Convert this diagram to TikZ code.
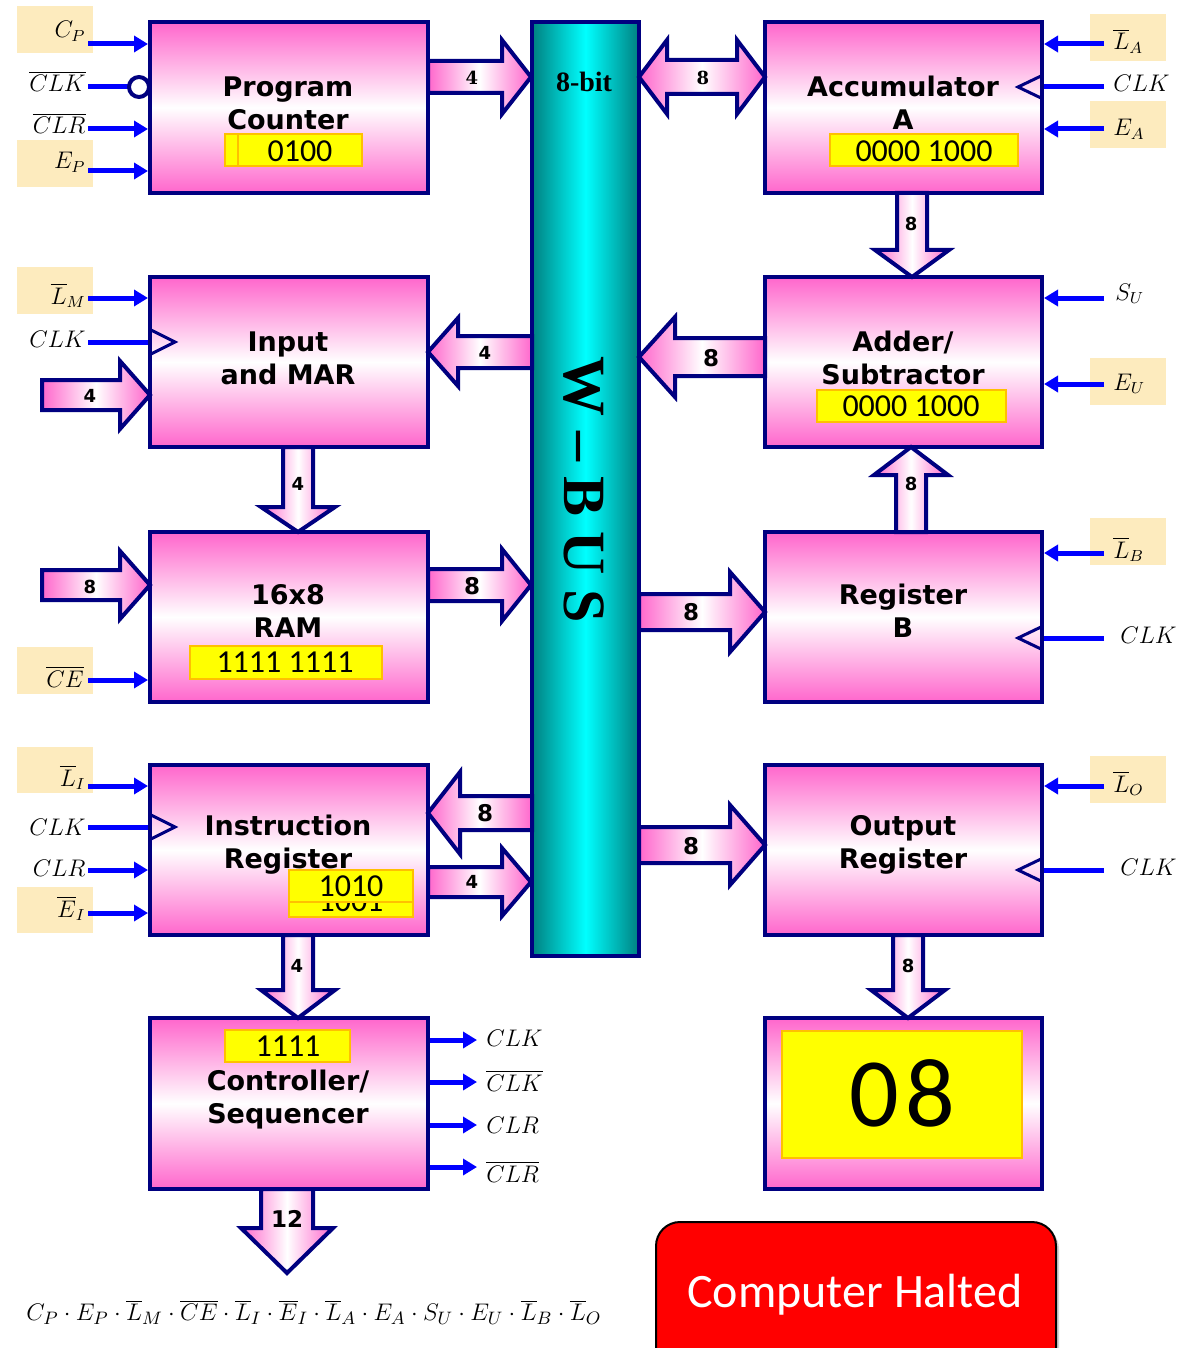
\documentclass[tikz,border=0pt]{standalone}
\usepackage{fontspec}
\usetikzlibrary{arrows.meta,shadows,fit}
\newfontfamily\dvs{DejaVu Sans}
\newfontfamily\dvserif{DejaVu Serif}
\newfontfamily\carl{Carlito}
\newfontfamily\lserif{Liberation Serif}
\definecolor{pk}{RGB}{255,102,204}
\definecolor{navy}{RGB}{0,0,128}
\definecolor{beige}{RGB}{253,235,190}
\definecolor{sigblue}{RGB}{0,0,255}
\definecolor{dteal}{RGB}{0,128,128}
\definecolor{ybor}{RGB}{255,192,0}
\definecolor{yel}{RGB}{255,255,0}
\tikzset{
 box/.style={draw=navy, line width=2pt, top color=pk, bottom color=pk, middle color=white, inner sep=0pt},
 barrow/.style={draw=navy, line width=2pt, line join=miter, left color=pk, right color=pk, middle color=white},
 ybox/.style={fill=yel, draw=ybor, line width=0.8pt, inner sep=0pt},
 btxt/.style={font=\dvs\bfseries\fontsize{13.5}{16.5}\selectfont, align=center, inner sep=0pt},
 ntxt/.style={font=\carl\fontsize{16}{19}\selectfont, inner sep=0pt},
 alab/.style={font=\dvs\bfseries\fontsize{9}{10}\selectfont, inner sep=0pt},
 alabm/.style={font=\dvs\bfseries\fontsize{11.5}{12}\selectfont, inner sep=0pt},
 alabs/.style={font=\dvserif\bfseries\fontsize{9}{10}\selectfont, inner sep=0pt},
 sig/.style={draw=sigblue, line width=2.5pt, -{Triangle[length=7pt,width=8pt]}},
 sigl/.style={draw=sigblue, line width=2.5pt},
 bg/.style={fill=beige, inner sep=0pt},
 mlab/.style={font=\fontsize{11.5}{12}\selectfont, inner sep=0pt},
 clk/.style={draw=navy, line width=1.5pt, line join=miter},
}
\newcommand{\harr}[6]{%
  \pgfmathsetmacro{\arrhd}{#2>#1 ? #2-#6 : #2+#6}%
  \draw[barrow] (#1,#3-#4) -- (\arrhd,#3-#4) -- (\arrhd,#3-#5) -- (#2,#3) -- (\arrhd,#3+#5) -- (\arrhd,#3+#4) -- (#1,#3+#4) -- cycle;}
\newcommand{\varr}[6]{%
  \pgfmathsetmacro{\arrhd}{#3>#2 ? #3-#6 : #3+#6}%
  \draw[barrow] (#1-#4,#2) -- (#1-#4,\arrhd) -- (#1-#5,\arrhd) -- (#1,#3) -- (#1+#5,\arrhd) -- (#1+#4,\arrhd) -- (#1+#4,#2) -- cycle;}
\begin{document}
\begin{tikzpicture}[x=0.5pt,y=-0.5pt]
\fill[white] (0,0) rectangle (1178,1348);
\clip (0,0) rectangle (1178,1348);

% beige label backgrounds
\node[bg, fit={(17,6) (93,53)}] (bgcp) {};
\node[bg, fit={(17,140) (93,187)}] (bgep) {};
\node[bg, fit={(17,267) (93,314)}] (bglm) {};
\node[bg, fit={(17,647) (93,694)}] (bgce) {};
\node[bg, fit={(17,747) (93,793)}] (bgli) {};
\node[bg, fit={(17,887) (93,933)}] (bgei) {};
\node[bg, fit={(1090,14) (1166,61)}] (bgla) {};
\node[bg, fit={(1090,101) (1166,148)}] (bgea) {};
\node[bg, fit={(1090,358) (1166,405)}] (bgeu) {};
\node[bg, fit={(1090,518) (1166,565)}] (bglb) {};
\node[bg, fit={(1090,756) (1166,803)}] (bglo) {};

% bus
\node[draw=navy, line width=2pt, left color=dteal, right color=dteal, middle color=cyan, inner sep=0pt, fit={(532,22) (639,956)}] (bus) {};
\node[font=\lserif\bfseries\fontsize{14}{16}\selectfont, inner sep=0pt] (bit) at (584,82) {8-bit};
\node[font=\lserif\bfseries\fontsize{30}{32}\selectfont, inner sep=0pt, rotate=-90] (wbus) at (584,490) {W – B U S};

% boxes
\node[box, fit={(150,22) (428,193)}] (pc) {};
\node[box, fit={(150,277) (428,447)}] (mar) {};
\node[box, fit={(150,532) (428,702)}] (ram) {};
\node[box, fit={(150,765) (428,935)}] (ir) {};
\node[box, fit={(150,1018) (428,1189)}] (ctl) {};
\node[box, fit={(765,22) (1042,193)}] (acc) {};
\node[box, fit={(765,277) (1042,447)}] (add) {};
\node[box, fit={(765,532) (1042,702)}] (regb) {};
\node[box, fit={(765,765) (1042,935)}] (outr) {};
\node[box, fit={(765,1018) (1042,1189)}] (disp) {};

% block arrows
\harr{428}{531}{77}{16}{37}{29}
\draw[barrow] (639,77) -- (667,40) -- (667,60) -- (737,60) -- (737,40) -- (765,77) -- (737,114) -- (737,94) -- (667,94) -- (667,114) -- cycle;
\varr{912}{193}{277}{15}{37}{27}
\harr{532}{428}{352}{16}{34}{30}
\harr{765}{639}{357}{19}{40}{36}
\harr{42}{150}{395}{15}{34}{30}
\varr{298}{447}{532}{15}{37}{25}
\harr{42}{150}{585}{15}{34}{30}
\harr{428}{531}{585}{16}{36}{29}
\harr{639}{765}{612}{18}{40}{35}
\varr{911}{532}{447}{15}{37}{28}
\harr{532}{428}{813}{17}{41}{32}
\harr{428}{531}{882}{15}{34}{29}
\harr{639}{765}{845}{18}{40}{35}
\varr{298}{935}{1018}{15}{37}{28}
\varr{908}{935}{1018}{15}{37}{28}
\varr{287}{1189}{1273}{26}{46}{45}

% arrow labels
\node[alabs] (a1) at (472,78) {4};
\node[alabs] (a2) at (703,78) {8};
\node[alab] (a3) at (911,224) {8};
\node[alab] (a4) at (485,353) {4};
\node[alabm] (a5) at (711,358) {8};
\node[alab] (a6) at (90,396) {4};
\node[alab] (a7) at (298,484) {4};
\node[alab] (a8) at (90,587) {8};
\node[alabm] (a9) at (472,586) {8};
\node[alabm] (a10) at (691,612) {8};
\node[alab] (a11) at (911,484) {8};
\node[alabm] (a12) at (485,813) {8};
\node[alab] (a13) at (472,882) {4};
\node[alabm] (a14) at (691,846) {8};
\node[alab] (a15) at (297,966) {4};
\node[alab] (a16) at (908,966) {8};
\node[alabm] (a17) at (287,1219) {12};

% box texts
\node[btxt] (tpc) at (288,103) {Program\\Counter};
\node[btxt] (tmar) at (288,358) {Input\\and MAR};
\node[btxt] (tram) at (288,611) {16x8\\RAM};
\node[btxt] (tir) at (288,845) {Instruction\\Register};
\node[btxt] (tctl) at (288,1100) {Controller/\\Sequencer};
\node[btxt] (tacc) at (903,103) {Accumulator\\A};
\node[btxt] (tadd) at (903,358) {Adder/\\Subtractor};
\node[btxt] (tregb) at (903,611) {Register\\B};
\node[btxt] (tout) at (903,845) {Output\\Register};

% yellow value boxes
\node[ybox, fit={(225,134) (362,166)}] (ypc) {};
\draw[ybor, line width=0.8pt] (238,134) -- (238,166);
\node[ntxt] (vpc) at (300,151) {0100};
\node[ybox, fit={(830,134) (1018,166)}] (yacc) {};
\node[ntxt] (vacc) at (924,151) {0000 1000};
\node[ybox, fit={(817,390) (1006,422)}] (yadd) {};
\node[ntxt] (vadd) at (911,406) {0000 1000};
\node[ybox, fit={(190,646) (382,679)}] (yram) {};
\node[ntxt] (vram) at (285,662) {1111 1111};
\node[ybox, fit={(289,885) (413,917)}] (yir2) {};
\node[ntxt] (vir2) at (351,901) {1001};
\node[ybox, fit={(289,870) (413,902)}] (yir1) {};
\node[ntxt] (vir1) at (351,886) {1010};
\node[ybox, fit={(225,1030) (350,1062)}] (yctl) {};
\node[ntxt] (vctl) at (288,1046) {1111};
\node[ybox, fit={(782,1031) (1022,1158)}] (ydisp) {};
\node[font=\carl\fontsize{49}{50}\selectfont, inner sep=0pt] (vdisp) at (902,1093) {0\kern3pt8};

% left signals
\draw[sig] (88,44) -- (pc.west |- 0,44);
\draw[sigl] (88,87) -- (129,87);
\draw[navy, line width=2pt, fill=white] (139,87) circle (5pt);
\draw[sig] (88,129) -- (pc.west |- 0,129);
\draw[sig] (88,171) -- (pc.west |- 0,171);
\draw[sig] (88,298) -- (mar.west |- 0,298);
\draw[sigl] (88,342) -- (mar.west |- 0,342);
\draw[clk] (151,330) -- (175,342) -- (151,354);
\draw[sig] (88,680) -- (ram.west |- 0,680);
\draw[sig] (88,786) -- (ir.west |- 0,786);
\draw[sigl] (88,827) -- (ir.west |- 0,827);
\draw[clk] (151,815) -- (175,827) -- (151,839);
\draw[sig] (88,870) -- (ir.west |- 0,870);
\draw[sig] (88,913) -- (ir.west |- 0,913);

\node[mlab, anchor=base east] (lcp) at (86,38) {$C_P$};
\node[mlab, anchor=base east] (lclkb) at (86,92) {$\overline{CLK}$};
\node[mlab, anchor=base east] (lclrb) at (86,134) {$\overline{CLR}$};
\node[mlab, anchor=base east] (lep) at (86,169) {$E_P$};
\node[mlab, anchor=base east] (llm) at (86,304) {$\overline{L}_M$};
\node[mlab, anchor=base east] (lclk1) at (86,347) {$CLK$};
\node[mlab, anchor=base east] (lce) at (84,687) {$\overline{CE}$};
\node[mlab, anchor=base east] (lli) at (86,786) {$\overline{L}_I$};
\node[mlab, anchor=base east] (lclk2) at (86,835) {$CLK$};
\node[mlab, anchor=base east] (lclr) at (86,876) {$CLR$};
\node[mlab, anchor=base east] (lei) at (86,917) {$\overline{E}_I$};

% right signals
\draw[sig] (1104,44) -- (acc.east |- 0,44);
\draw[sigl] (1104,87) -- (acc.east |- 0,87);
\draw[clk] (1041,76) -- (1018,87) -- (1041,98);
\draw[sig] (1104,129) -- (acc.east |- 0,129);
\draw[sig] (1104,298) -- (add.east |- 0,298);
\draw[sig] (1104,384) -- (add.east |- 0,384);
\draw[sig] (1104,553) -- (regb.east |- 0,553);
\draw[sigl] (1104,638) -- (regb.east |- 0,638);
\draw[clk] (1041,627) -- (1018,638) -- (1041,649);
\draw[sig] (1104,786) -- (outr.east |- 0,786);
\draw[sigl] (1104,870) -- (outr.east |- 0,870);
\draw[clk] (1041,859) -- (1018,870) -- (1041,881);

\node[mlab, anchor=base west] (rla) at (1113,50) {$\overline{L}_A$};
\node[mlab, anchor=base west] (rclk1) at (1113,92) {$CLK$};
\node[mlab, anchor=base west] (rea) at (1113,136) {$E_A$};
\node[mlab, anchor=base west] (rsu) at (1115,300) {$S_U$};
\node[mlab, anchor=base west] (reu) at (1113,390) {$E_U$};
\node[mlab, anchor=base west] (rlb) at (1113,558) {$\overline{L}_B$};
\node[mlab, anchor=base west] (rclk2) at (1120,643) {$CLK$};
\node[mlab, anchor=base west] (rlo) at (1113,792) {$\overline{L}_O$};
\node[mlab, anchor=base west] (rclk3) at (1120,875) {$CLK$};

% controller outputs
\draw[sig] (ctl.east |- 0,1040) -- (477,1040);
\draw[sig] (ctl.east |- 0,1082) -- (477,1082);
\draw[sig] (ctl.east |- 0,1125) -- (477,1125);
\draw[sig] (ctl.east |- 0,1167) -- (477,1167);
\node[mlab, anchor=base west] (cclk) at (486,1046) {$CLK$};
\node[mlab, anchor=base west] (cclkb) at (486,1091) {$\overline{CLK}$};
\node[mlab, anchor=base west] (cclr) at (486,1133) {$CLR$};
\node[mlab, anchor=base west] (cclrb) at (486,1182) {$\overline{CLR}$};

% control word
\node[font=\fontsize{13}{14}\selectfont, inner sep=0pt] (eq) at (314,1312) {$C_P\cdot E_P\cdot \overline{L}_M\cdot\overline{CE}\cdot\overline{L}_I\cdot\overline{E}_I\cdot\overline{L}_A\cdot E_A\cdot S_U\cdot E_U\cdot\overline{L}_B\cdot\overline{L}_O$};

% halted
\node[draw=black, line width=1pt, fill=red, rounded corners=12pt, inner sep=0pt, drop shadow={shadow xshift=1.5pt, shadow yshift=-1.5pt, opacity=0.35}, fit={(656,1222) (1056,1380)}] (halt) {};
\node[font=\carl\fontsize{24}{26}\selectfont, text=white, inner sep=0pt, anchor=base] (thalt) at (855,1307) {Computer Halted};
\end{tikzpicture}
\end{document}
